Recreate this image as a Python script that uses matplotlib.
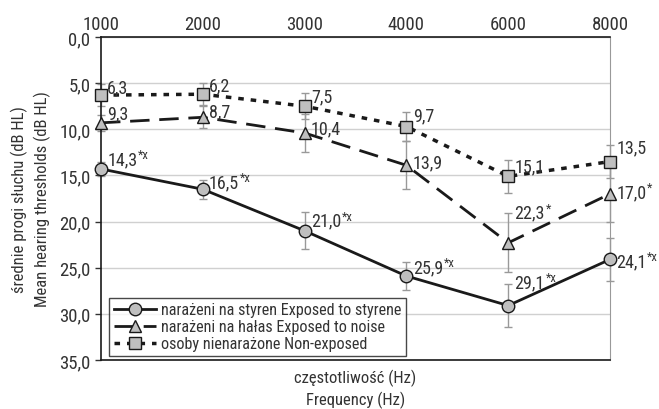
import matplotlib
matplotlib.use('Agg')
import matplotlib.pyplot as plt
from matplotlib import font_manager

# prefer a condensed face, like the original
names = {f.name for f in font_manager.fontManager.ttflist}
fam = 'Liberation Sans'
for cand in ['Roboto Condensed', 'DejaVu Sans Condensed', 'Liberation Sans Narrow', 'Open Sans Condensed']:
    if cand in names:
        fam = cand
        break
plt.rcParams['font.family'] = [fam, 'DejaVu Sans']

freqs = ['1000', '2000', '3000', '4000', '6000', '8000']
styrene = [14.3, 16.5, 21.0, 25.9, 29.1, 24.1]
styrene_err = [0.8, 1.0, 2.0, 1.5, 2.3, 2.3]
styrene_lbl = ['14,3*x', '16,5*x', '21,0*x', '25,9*x', '29,1*x', '24,1*x']
noise = [9.3, 8.7, 10.4, 13.9, 22.3, 17.0]
noise_err = [0.9, 1.2, 2.1, 2.6, 3.2, 3.0]
noise_lbl = ['9,3', '8,7', '10,4', '13,9', '22,3*', '17,0*']
nonexp = [6.3, 6.2, 7.5, 9.7, 15.1, 13.5]
nonexp_err = [1.2, 1.2, 1.4, 1.6, 1.8, 1.8]
nonexp_lbl = ['6,3', '6,2', '7,5', '9,7', '15,1', '13,5']
yticks = [0, 5, 10, 15, 20, 25, 30, 35]

# how far (px) each value label sits above its marker
styrene_up = [10, 7, 10, 9, 23, -2]
noise_up = [9, 6, 5, 3, 30, 2]
nonexp_up = [8, 9, 10, 11, 10, 14]

txt = '#333333'
fig = plt.figure(figsize=(6.59, 4.10), dpi=100)
ax = fig.add_axes([101/659, 1-361/410, (610-101)/659, (361-38)/410])
x = list(range(len(freqs)))

series = [
    (styrene, styrene_err, styrene_lbl, styrene_up, 'o', None, 'narażeni na styren Exposed to styrene'),
    (noise, noise_err, noise_lbl, noise_up, '^', (0, (7, 3.5)), 'narażeni na hałas Exposed to noise'),
    (nonexp, nonexp_err, nonexp_lbl, nonexp_up, 's', (0, (1.6, 2.0)), 'osoby nienarażone Non-exposed'),
]
for vals, err, lbl, up, mk, dash, name in series:
    ax.errorbar(x, vals, yerr=err, fmt='none', ecolor='#999999', elinewidth=1,
                capsize=3, capthick=1, zorder=2, clip_on=False)
    lw = 2.0 if mk != 's' else 2.5
    line, = ax.plot(x, vals, color='#1a1a1a', lw=lw, marker=mk, ms=9 if mk != '^' else 8,
                    mfc='#bfbfbf', mec='#1a1a1a', mew=1.0, label=name, zorder=3, clip_on=False)
    if dash is not None:
        line.set_linestyle(dash)
    for xi, v, s, d in zip(x, vals, lbl, up):
        sup = ''
        if '*' in s:
            i = s.index('*')
            s, sup = s[:i], s[i:]
        t = ax.annotate(s, (xi, v), xytext=(4.5, d * 0.72), textcoords='offset points',
                        ha='left', va='center', fontsize=13, color=txt, zorder=4)
        if sup:
            ax.annotate(sup, xy=(1, 0.4), xycoords=t, xytext=(0.5, 0),
                        textcoords='offset points', ha='left', va='bottom',
                        fontsize=9, color=txt, zorder=4)

ax.set_xlim(0, 5)
ax.set_ylim(35, 0)
ax.set_xticks(x)
ax.set_xticklabels(freqs)
ax.xaxis.tick_top()
ax.tick_params(axis='x', length=0, pad=3, labelsize=13.5, labelcolor=txt)
ax.set_yticks(yticks)
ax.set_yticklabels([f'{t:.1f}'.replace('.', ',') for t in yticks])
ax.tick_params(axis='y', length=4, width=1, color='#333333', labelsize=13.5, labelcolor=txt)
ax.yaxis.grid(True, color='#d0d0d0', lw=1)
ax.set_axisbelow(True)
for s in ['top', 'left', 'bottom']:
    ax.spines[s].set_color('#1a1a1a')
    ax.spines[s].set_linewidth(1.2)
ax.spines['right'].set_color('#999999')

ax.set_xlabel('częstotliwość (Hz)\nFrequency (Hz)', fontsize=12, color=txt, labelpad=6,
              linespacing=1.35)
ax.set_ylabel('średnie progi słuchu (dB HL)\nMean hearing thresholds (dB HL)', fontsize=12,
              color=txt, labelpad=6, linespacing=1.45)

leg = ax.legend(loc='lower left', bbox_to_anchor=(0.016, 0.012), borderaxespad=0,
                fontsize=11.6, frameon=True, fancybox=False, edgecolor='#1a1a1a',
                handlelength=2.6, borderpad=0.3, labelspacing=0.12, handletextpad=0.3)
leg.get_frame().set_linewidth(1.0)
for t in leg.get_texts():
    t.set_color(txt)

fig.savefig('out.png', dpi=100)
